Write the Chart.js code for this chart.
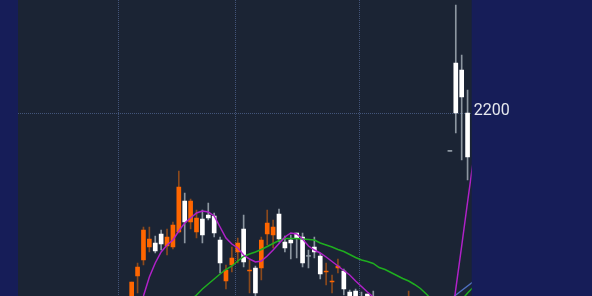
<!DOCTYPE html>
<html>
<head>
<meta charset="utf-8">
<script src="https://cdn.jsdelivr.net/npm/chart.js"></script>
<style>
  html, body {
    margin: 0;
    padding: 0;
    background-color: #161d58;
    overflow: hidden;
  }
  #box {
    width: 592px;
    height: 296px;
    position: relative;
  }
</style>
</head>
<body>
<div id="box">
  <canvas id="myChart"></canvas>
</div>

<script>
  // one slot per trading day, null = candle out of view
  const opens  = [2003, 2037, 2053, 2066, 2070, 2079, 2067, 2066, 2081, 2112,
                  2091, 2081, 2094, 2098, 2097, 2073, 2032, 2048, 2061, 2084,
                  2042, 2045, 2045, 2079, 2078, 2099, 2071, 2073, 2080, 2076,
                  2057, 2066, 2057, 2041, 2031, 2045, 2042, 2021, 2022, 2014,
                  2019, 2015, null, null, null, null, null, 2000, null, null,
                  null, null, null, null, 2162, 2250, 2243, 2200, null];
  const closes = [2031, 2046, 2083, 2074, 2062, 2069, 2076, 2088, 2126, 2091,
                  2112, 2095, 2078, 2095, 2080, 2050, 2043, 2055, 2070, 2051,
                  2042, 2020, 2073, 2090, 2086, 2074, 2065, 2070, 2075, 2050,
                  2056.6, 2061, 2039, 2041, 2031, 2047, 2024, 2005, 2005, 2005,
                  2008, 2005, null, null, null, null, null, 2010, null, null,
                  null, null, null, null, 2161.7, 2200, 2216, 2156, null];
  const highs  = [2031, 2050, 2086, 2086, 2077, 2083, 2084, 2091, 2142, 2120,
                  2114, 2103, 2103, 2110, 2100, 2076, 2048, 2066, 2075, 2098,
                  2053, 2047, 2076, 2103, 2093, 2104, 2077, 2078, 2080, 2080,
                  2063, 2076, 2060, 2050, 2038, 2054, 2044, 2023, 2024, 2021,
                  2019, 2022, null, null, null, null, null, 2022, null, null,
                  null, null, null, null, 2162, 2308, 2258, 2223, null];
  const lows   = [1998, 2020, 2048, 2061, 2060, 2063, 2058, 2064, 2080, 2070,
                  2084, 2075, 2070, 2093, 2076, 2040, 2024, 2041, 2050, 2046,
                  2020, 2013, 2033, 2068, 2065, 2071, 2061, 2054, 2055, 2046,
                  2045, 2055, 2034, 2028, 2020, 2040, 2018, 2000, 1998, 1995,
                  2000, 2000, null, null, null, null, null, 1995, null, null,
                  null, null, null, null, 2162, 2180, 2153, 2133, null];

  const maFast = [1983, 2000, 2017, 2036, 2050, 2061, 2068, 2073, 2082, 2090,
                  2095, 2100, 2102, 2101, 2097, 2086, 2075, 2069, 2065, 2058,
                  2054, 2051, 2052, 2057, 2063, 2069.5, 2076, 2080, 2079, 2074,
                  2067, 2063, 2060, 2056, 2051.5, 2047, 2042.5, 2038, 2032, 2026.5,
                  2021, 2016, 2011, null, null, null, null, null, null, null,
                  null, null, null, null, 1980, 2024, 2067, 2111, 2154];
  const maMid  = [null, null, null, null, null, null, null, null, null, 2006,
                  2013, 2018, 2024, 2029, 2034, 2039, 2043.5, 2047, 2052, 2056.5,
                  2059, 2061, 2063.5, 2066.5, 2069.5, 2072.5, 2074.5, 2074.5, 2074.5, 2074,
                  2073.5, 2073, 2070, 2068, 2066, 2063.5, 2061.5, 2058.5, 2055.5, 2053,
                  2051.5, 2049.5, 2045.5, 2043.5, 2040.5, 2037.5, 2034.5, 2032, 2028.5, 2024.5,
                  2019, 2013, null, null, null, null, 2013, 2020, 2026];
  const maSlow = [null, null, null, null, null, null, null, null, null, null,
                  null, null, null, null, null, null, null, null, null, null,
                  null, null, null, null, null, null, null, null, null, null,
                  null, null, null, null, null, null, null, null, null, null,
                  null, null, null, null, null, null, null, null, null, null,
                  null, null, null, null, 2013, 2018, 2022.5, 2027, 2031.5];

  const gridX = [-2.27, 17.70, 38.74];   // month breaks
  const yTicks = [2200];

  const upColor = '#ff6600';
  const upWick = '#8c4a1c';
  const downColor = '#ffffff';
  const downWick = '#8c96a0';
  const gridColor = '#43557a';

  function isUp(i) {
    return closes[i] >= opens[i];
  }

  function bodyColor(c) {
    var i = c.dataIndex;
    if (isUp(i)) return upColor;
    if (Math.abs(opens[i] - closes[i]) < 1) return downWick;
    return downColor;
  }

  function wickColor(c) {
    return isUp(c.dataIndex) ? upWick : downWick;
  }

  function toPoints(arr) {
    return arr.map(function (v, i) { return { x: i, y: v }; });
  }

  var bodies = [];
  var wicks = [];
  for (var i = 0; i < opens.length; i++) {
    if (opens[i] === null) {
      bodies.push({ x: i, y: null });
      wicks.push({ x: i, y: null });
    } else {
      bodies.push({ x: i, y: [opens[i], closes[i]] });
      wicks.push({ x: i, y: [lows[i], highs[i]] });
    }
  }

  const plotBg = {
    id: 'plotBg',
    beforeDraw: function (chart) {
      var a = chart.chartArea;
      var ctx = chart.ctx;
      ctx.save();
      ctx.fillStyle = '#1b2434';
      ctx.fillRect(a.left, a.top, a.right - a.left, a.bottom - a.top);
      ctx.restore();
    }
  };

  function noPad(s) {
    s.paddingTop = 0;
    s.paddingBottom = 0;
    s.paddingLeft = 0;
    s.paddingRight = 0;
  }

  var config = {
    type: 'bar',
    data: {
      datasets: [
        {
          type: 'line', data: toPoints(maFast), borderColor: '#b021c8',
          borderWidth: 1.5, pointRadius: 0, spanGaps: false, order: 0
        },
        {
          type: 'line', data: toPoints(maMid), borderColor: '#1fae1f',
          borderWidth: 1.5, pointRadius: 0, spanGaps: false, order: 0
        },
        {
          type: 'line', data: toPoints(maSlow), borderColor: '#4f6fc0',
          borderWidth: 1.5, pointRadius: 0, spanGaps: false, order: 0
        },
        {
          data: wicks, backgroundColor: wickColor, barThickness: 1,
          grouped: false, order: 2
        },
        {
          data: bodies, backgroundColor: bodyColor, barThickness: 4,
          minBarLength: 1, grouped: false, order: 1
        }
      ]
    },
    options: {
      responsive: true,
      maintainAspectRatio: false,
      animation: false,
      layout: { padding: { left: 18, top: 0, right: 0, bottom: 0 } },
      plugins: {
        legend: { display: false },
        tooltip: { enabled: false }
      },
      scales: {
        x: {
          type: 'linear',
          min: -19.29,
          max: 57.70,
          offset: false,
          afterBuildTicks: function (s) {
            s.ticks = gridX.map(function (v) { return { value: v }; });
          },
          afterFit: function (s) { s.height = 0; noPad(s); },
          ticks: { display: false },
          grid: { color: gridColor, drawTicks: false, lineWidth: 1, offset: false },
          border: { display: false, dash: [1, 1] }
        },
        y: {
          position: 'right',
          min: 2017,
          max: 2313,
          afterBuildTicks: function (s) {
            s.ticks = yTicks.map(function (v) { return { value: v }; });
          },
          afterFit: function (s) { s.width = 120.3; noPad(s); },
          ticks: {
            color: '#e6e8ee',
            font: { family: 'Roboto', size: 16 },
            padding: 2,
            labelOffset: -2,
            callback: function (v) { return String(v); }
          },
          grid: { color: gridColor, drawTicks: false, lineWidth: 1 },
          border: { display: false, dash: [1, 1] }
        }
      }
    },
    plugins: [plotBg]
  };

  myChart = new Chart(document.getElementById('myChart'), config);
</script>
</body>
</html>
